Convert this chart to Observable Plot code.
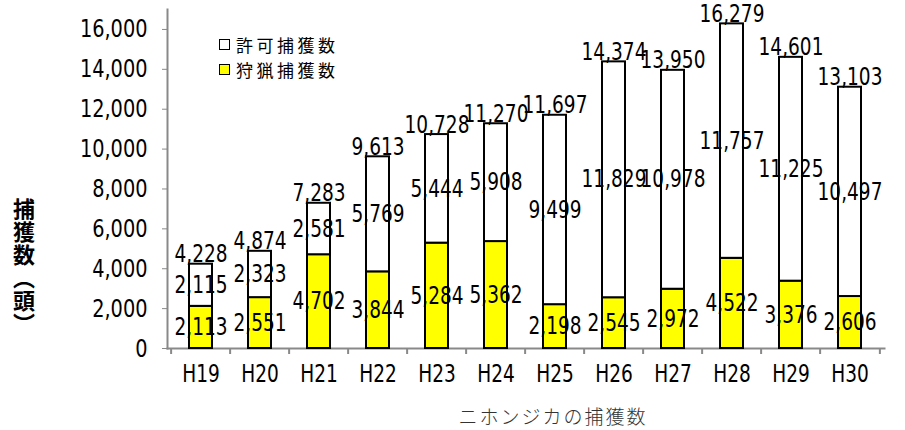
<!DOCTYPE html>
<html>
<head>
<meta charset="utf-8">
<script src="https://cdn.jsdelivr.net/npm/d3@7"></script>
<script src="https://cdn.jsdelivr.net/npm/@observablehq/plot@0.6"></script>
<style>
  html, body { margin: 0; padding: 0; background: #fff; }
  #wrap { position: relative; width: 905px; height: 430px; overflow: hidden; }
  #ytitle { position: absolute; left: 12px; top: 198px; writing-mode: vertical-rl;
    font-family: "Noto Sans CJK JP", sans-serif; font-weight: bold; font-size: 22px; line-height: 24px; letter-spacing: 1px; color: #000; }
  #legend { position: absolute; left: 219px; top: 32px; font-family: "Noto Sans CJK JP", sans-serif; font-size: 17px; letter-spacing: 3.5px; line-height: 25px; color: #000; }
  .lg { display: flex; align-items: center; height: 25px; line-height: 25px; }
  .sw { width: 9px; height: 9px; border: 1.5px solid #000; margin-right: 6px; }
  #caption { position: absolute; left: 0; width: 1106px; top: 404px; text-align: center;
    font-family: "Noto Sans CJK JP", serif; font-size: 19px; line-height: 24px; letter-spacing: 2px; color: #333; font-weight: 300; }
</style>
</head>
<body>
<div id="wrap">
  <div id="chart"></div>
  <div id="ytitle">捕獲数（頭）</div>
  <div id="legend"></div>
  <div id="caption">ニホンジカの捕獲数</div>
</div>
<script>
const years = ["H19","H20","H21","H22","H23","H24","H25","H26","H27","H28","H29","H30"];
const hunting = [2113, 2551, 4702, 3844, 5284, 5362, 2198, 2545, 2972, 4522, 3376, 2606];
const permit = [2115, 2323, 2581, 5769, 5444, 5908, 9499, 11829, 10978, 11757, 11225, 10497];
const totals = [4228, 4874, 7283, 9613, 10728, 11270, 11697, 14374, 13950, 16279, 14601, 13103];
const yTicks = [0, 2000, 4000, 6000, 8000, 10000, 12000, 14000, 16000];
const seriesNames = ["許可捕獲数", "狩猟捕獲数"];
const seriesColors = ["#ffffff", "#ffff00"];

const rows = years.map((y, i) => ({year: y, hunting: hunting[i], permit: permit[i], total: totals[i]}));
const fmt = d3.format(",");

const W = 905, H = 400, ML = 167, MR = 21, MT = 9, MB = 52;
const step = (W - ML - MR) / years.length;
const numFont = "'DejaVu Sans Condensed', 'DejaVu Sans', sans-serif";
const grey = "#898989";

const chart = Plot.plot({
  width: W, height: H,
  marginLeft: ML, marginRight: MR, marginTop: MT, marginBottom: MB,
  style: {fontFamily: numFont, fontSize: "24px", color: "#000", background: "#fff"},
  x: {domain: years, paddingInner: 0.61, paddingOuter: 0.305, label: null},
  y: {domain: [0, 17000], label: null},
  marks: [
    Plot.frame({anchor: "left", stroke: grey, strokeWidth: 2}),
    Plot.frame({anchor: "bottom", stroke: grey, strokeWidth: 2}),
    Plot.axisY({ticks: yTicks, tickFormat: fmt, tickSize: 5, tickPadding: 15, stroke: grey, fontSize: 25, label: null}),
    Plot.axisX({tickSize: 0, tickPadding: 16, fontSize: 24, label: null}),
    Plot.ruleX(rows, {x: "year", dx: -step / 2, y1: 0, y2: 0, insetBottom: -6, stroke: grey, strokeWidth: 2}),
    Plot.ruleX(rows.slice(-1), {x: "year", dx: step / 2, y1: 0, y2: 0, insetBottom: -6, stroke: grey, strokeWidth: 2}),
    Plot.barY(rows, {x: "year", y1: 0, y2: "hunting", fill: seriesColors[1], stroke: "#000", strokeWidth: 2}),
    Plot.barY(rows, {x: "year", y1: "hunting", y2: d => d.hunting + d.permit, fill: seriesColors[0], stroke: "#000", strokeWidth: 2}),
    Plot.text(rows, {x: "year", y: d => d.hunting / 2, text: d => fmt(d.hunting), fontSize: 24, fill: "#000"}),
    Plot.text(rows, {x: "year", y: d => d.hunting + d.permit / 2, text: d => fmt(d.permit), fontSize: 24, fill: "#000"}),
    Plot.text(rows, {x: "year", y: "total", text: d => fmt(d.total), lineAnchor: "bottom", dy: -2, fontSize: 24, fill: "#000"})
  ]
});
// narrow the digits horizontally, like the condensed font of the original
chart.querySelectorAll("text").forEach(t => {
  const tr = t.getAttribute("transform");
  if (tr && tr.includes("translate")) t.setAttribute("transform", tr + " scale(0.86,1)");
});
document.getElementById("chart").appendChild(chart);

const legend = document.getElementById("legend");
seriesNames.forEach((n, i) => {
  const row = document.createElement("div");
  row.className = "lg";
  const sw = document.createElement("span");
  sw.className = "sw";
  sw.style.background = seriesColors[i];
  const t = document.createElement("span");
  t.textContent = n;
  row.appendChild(sw); row.appendChild(t);
  legend.appendChild(row);
});
</script>
</body>
</html>
